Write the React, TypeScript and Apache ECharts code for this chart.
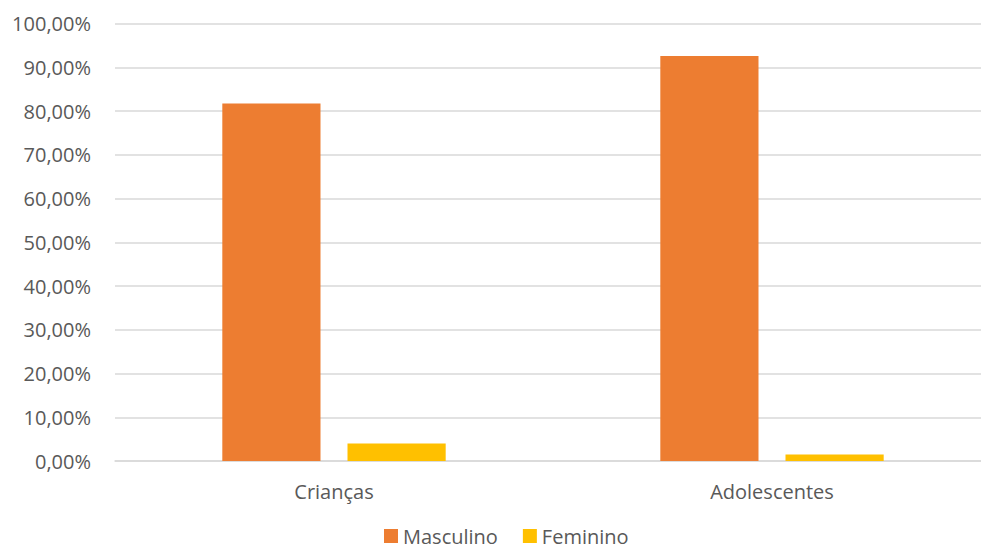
import React, { useEffect, useRef } from "react";
import * as echarts from "echarts";

// Share of each group by sex, in percent
const categories = ["Crianças", "Adolescentes"];
const masculino = [81.7, 92.6];
const feminino = [4.0, 1.5];

const TEXT = "#595959";
const GRID = "#d9d9d9";
const FONT = "'Open Sans', 'Noto Sans', sans-serif";

export default function App() {
  const ref = useRef<HTMLDivElement>(null);

  useEffect(() => {
    if (!ref.current) return;
    const chart = echarts.init(ref.current, undefined, { renderer: "svg" });
    chart.setOption({
      animation: false,
      textStyle: { fontFamily: FONT },
      grid: { left: 115, right: 0, top: 23.5, bottom: 93, containLabel: false },
      legend: {
        top: 526,
        left: 384,
        padding: [0, 0, 0, 0],
        itemWidth: 14,
        itemHeight: 14,
        itemGap: 25,
        icon: "rect",
        textStyle: { color: TEXT, fontSize: 20, fontFamily: FONT },
        data: ["Masculino", "Feminino"],
      },
      xAxis: {
        type: "category",
        data: categories,
        axisTick: { show: false },
        axisLine: { show: true, lineStyle: { color: GRID, width: 1.5 } },
        axisLabel: { color: TEXT, fontSize: 20, fontFamily: FONT, margin: 20 },
      },
      yAxis: {
        type: "value",
        min: 0,
        max: 100,
        interval: 10,
        axisLine: { show: false },
        axisTick: { show: false },
        splitLine: { lineStyle: { color: GRID, width: 1.5 } },
        axisLabel: {
          color: TEXT,
          fontSize: 20,
          fontFamily: FONT,
          margin: 24,
          formatter: (v: number) => v.toFixed(2).replace(".", ",") + "%",
        },
      },
      series: [
        {
          name: "Masculino",
          type: "bar",
          data: masculino,
          itemStyle: { color: "#ED7D31" },
          barGap: "27.5%",
          barCategoryGap: "49%",
        },
        {
          name: "Feminino",
          type: "bar",
          data: feminino,
          itemStyle: { color: "#FFC000" },
          barGap: "27.5%",
          barCategoryGap: "49%",
        },
      ],
    });
    return () => chart.dispose();
  }, []);

  // The plot runs slightly past the right edge of the visible frame
  return (
    <div
      style={{
        position: "fixed",
        left: 0,
        top: 0,
        width: 981,
        height: 554,
        overflow: "hidden",
        background: "#ffffff",
      }}
    >
      <div ref={ref} style={{ width: 991, height: 554 }} />
    </div>
  );
}
